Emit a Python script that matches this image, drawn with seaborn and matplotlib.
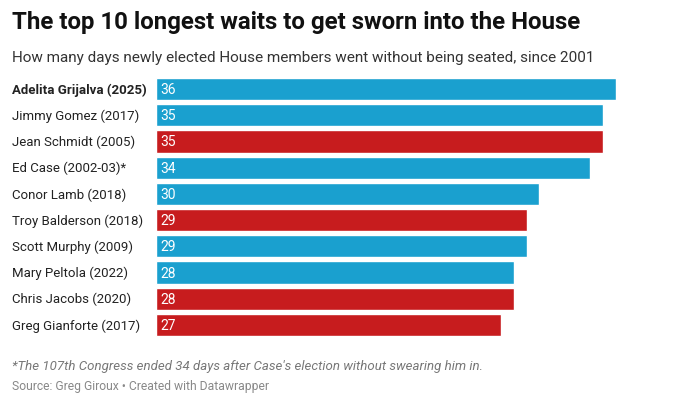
import matplotlib
matplotlib.use("Agg")
import matplotlib.pyplot as plt
import matplotlib.transforms as mtransforms
import pandas as pd
import seaborn as sb

# values
members = ["Adelita Grijalva (2025)", "Jimmy Gomez (2017)", "Jean Schmidt (2005)",
           "Ed Case (2002-03)*", "Conor Lamb (2018)", "Troy Balderson (2018)",
           "Scott Murphy (2009)", "Mary Peltola (2022)", "Chris Jacobs (2020)",
           "Greg Gianforte (2017)"]
days_waited = [36, 35, 35, 34, 30, 29, 29, 28, 28, 27]
party = ["D", "D", "R", "D", "D", "R", "D", "D", "R", "R"]

party_colors = {"D": "#1aa0cf", "R": "#c71c1e"}

df = pd.DataFrame({"member": members, "days": days_waited, "party": party})

sb.set_style("white")
plt.rcParams["font.family"] = ["Roboto", "DejaVu Sans"]

fig = plt.figure(figsize=(6.8, 4.06), dpi=100)
ax = fig.add_axes([156 / 680, 1 - 339 / 406, 460 / 680, 262 / 406])

sb.barplot(data=df, x="days", y="member", hue="party", palette=party_colors,
           dodge=False, width=0.84, legend=False, ax=ax, saturation=1)

ax.set_xlim(0, 36)
ax.set_ylim(9.5, -0.5)
ax.set_xlabel("")
ax.set_ylabel("")
ax.set_xticks([])
ax.set_yticks([])
sb.despine(ax=ax, left=True, bottom=True)

# member names on the left, value labels inside the bars
trans = mtransforms.blended_transform_factory(fig.transFigure, ax.transData)
for i, (name, d) in enumerate(zip(members, days_waited)):
    ax.text(12 / 680, i, name, transform=trans, ha="left", va="center",
            fontsize=9.5, color="#222222",
            fontweight="bold" if i == 0 else "normal")
    ax.text(0.35, i, str(d), ha="left", va="center", fontsize=10, color="white")

fig.text(12 / 680, 1 - 23 / 406, "The top 10 longest waits to get sworn into the House",
         fontsize=17.3, fontweight="bold", color="#111111", va="center")
fig.text(12 / 680, 1 - 58 / 406,
         "How many days newly elected House members went without being seated, since 2001",
         fontsize=11, color="#333333", va="center")
fig.text(12 / 680, 1 - 367 / 406,
         "*The 107th Congress ended 34 days after Case's election without swearing him in.",
         fontsize=9.5, style="italic", color="#777777", va="center")
fig.text(12 / 680, 1 - 387 / 406, "Source: Greg Giroux \u2022 Created with Datawrapper",
         fontsize=8.7, color="#888888", va="center")

fig.savefig("out.png", dpi=100)
